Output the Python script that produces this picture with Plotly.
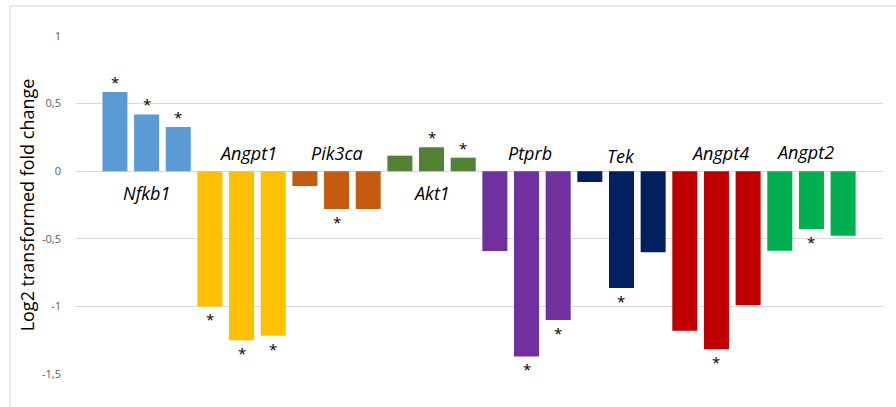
import plotly.graph_objects as go

genes = ["Nfkb1", "Angpt1", "Pik3ca", "Akt1", "Ptprb", "Tek", "Angpt4", "Angpt2"]
values = {
    "Nfkb1": [0.586, 0.42, 0.326],
    "Angpt1": [-1.0, -1.25, -1.217],
    "Pik3ca": [-0.11, -0.28, -0.28],
    "Akt1": [0.115, 0.177, 0.10],
    "Ptprb": [-0.59, -1.37, -1.10],
    "Tek": [-0.08, -0.864, -0.60],
    "Angpt4": [-1.18, -1.317, -0.99],
    "Angpt2": [-0.588, -0.427, -0.477],
}
significant = {
    "Nfkb1": [1, 1, 1],
    "Angpt1": [1, 1, 1],
    "Pik3ca": [0, 1, 0],
    "Akt1": [0, 1, 1],
    "Ptprb": [0, 1, 1],
    "Tek": [0, 1, 0],
    "Angpt4": [0, 1, 0],
    "Angpt2": [0, 1, 0],
}
colors = ["#5B9BD5", "#FFC000", "#C55A11", "#548235", "#7030A0", "#002060", "#C00000", "#00B050"]
label_y = [-0.16, 0.135, 0.135, -0.16, 0.135, 0.11, 0.135, 0.14]
label_dx = [0, 0.2, 0, 0, 0.1, 0, 0.1, -0.2]
tick_vals = [1, 0.5, 0, -0.5, -1, -1.5]
tick_text = ["1", "0,5", "0", "-0,5", "-1", "-1,5"]

fig = go.Figure()
annotations = []
for gi, g in enumerate(genes):
    xs = [gi * 3 + k for k in range(3)]
    fig.add_trace(go.Bar(x=xs, y=values[g], marker_color=colors[gi], width=0.79,
                         marker_line_width=0, showlegend=False, name=g))
    for k, (x, v) in enumerate(zip(xs, values[g])):
        if significant[g][k]:
            annotations.append(dict(x=x, y=v, xref="x", yref="y", text="*", showarrow=False,
                                    font=dict(size=15, color="#000000", family="Open Sans"),
                                    yshift=10 if v > 0 else -13))
    annotations.append(dict(x=gi * 3 + 1 + label_dx[gi], y=label_y[gi], xref="x", yref="y",
                            text="<i>" + g + "</i>", showarrow=False,
                            font=dict(size=18, color="#000000", family="Open Sans")))

fig.update_layout(
    width=896, height=407,
    margin=dict(l=76, r=13, t=36, b=33),
    paper_bgcolor="white", plot_bgcolor="white",
    annotations=annotations,
    bargap=0.2,
    xaxis=dict(range=[-1.23, 24.26], showticklabels=False, showgrid=False, zeroline=False,
               showline=False, fixedrange=True),
    yaxis=dict(range=[-1.5, 1.0], tickvals=tick_vals, ticktext=tick_text,
               showgrid=True, gridcolor="#D9D9D9", gridwidth=1,
               zeroline=True, zerolinecolor="#D9D9D9", zerolinewidth=1,
               showline=False, ticks="", ticklabelstandoff=14,
               tickfont=dict(size=11, color="#595959", family="Open Sans"),
               title=dict(text="Log2 transformed fold change", standoff=2,
                          font=dict(size=18, color="#000000", family="Open Sans"))),
    shapes=[dict(type="rect", xref="paper", yref="paper", x0=-0.0818, x1=1.5,
                 y0=-0.5, y1=1.0888, line=dict(color="#D9D9D9", width=1), layer="below")],
)
fig.write_html("out.html", config={"displayModeBar": False},
               post_script="document.body.style.margin='0';")
